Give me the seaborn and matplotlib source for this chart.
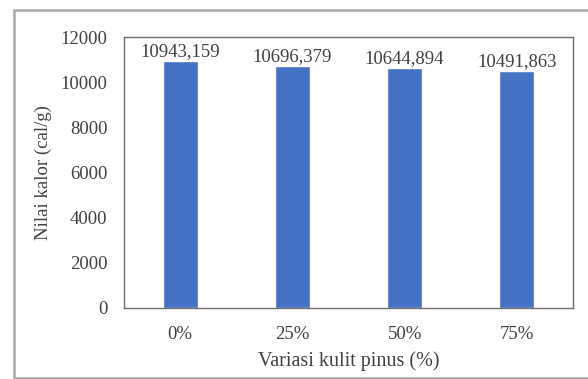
import matplotlib
matplotlib.use("Agg")
import matplotlib.pyplot as plt
from matplotlib.patches import Rectangle
import seaborn as sns
import pandas as pd

categories = ["0%", "25%", "50%", "75%"]
values = [10943.159, 10696.379, 10644.894, 10491.863]
value_labels = ["10943,159", "10696,379", "10644,894", "10491,863"]
y_ticks = [0, 2000, 4000, 6000, 8000, 10000, 12000]

sns.set_theme(style="white")
plt.rcParams["font.family"] = ["Liberation Serif", "DejaVu Serif"]
text_color = "#404040"
fs = 13.5

df = pd.DataFrame({"variasi": categories, "nilai": values})

fig = plt.figure(figsize=(5.88, 3.79), dpi=100)
ax = fig.add_axes([124 / 588, 1 - 308 / 379, (573 - 124) / 588, (308 - 37) / 379])

sns.barplot(data=df, x="variasi", y="nilai", color="#4472C4", width=0.31,
            saturation=1, ax=ax)

for i, (v, lab) in enumerate(zip(values, value_labels)):
    ax.text(i, v + 40, lab, ha="center", va="bottom", fontsize=fs,
            color=text_color)

ax.set_ylim(0, 12000)
ax.set_yticks(y_ticks)
ax.set_yticklabels([str(t) for t in y_ticks])
ax.tick_params(axis="both", length=0, labelsize=fs, colors=text_color)
ax.tick_params(axis="x", pad=13)
ax.tick_params(axis="y", pad=12)
ax.set_xlabel("Variasi kulit pinus (%)", fontsize=14.5, color=text_color, labelpad=6)
ax.set_ylabel("Nilai kalor (cal/g)", fontsize=fs, color=text_color, labelpad=6)
for s in ax.spines.values():
    s.set_visible(True)
    s.set_color("#6e6e6e")
    s.set_linewidth(1.0)

# outer chart-area border
fig.patches.append(Rectangle((14 / 588, 1 / 379), 0.99, 1 - 11 / 379,
                             transform=fig.transFigure, fill=False,
                             edgecolor="#a8a8a8", linewidth=1.8, zorder=0))

fig.savefig("out.png", dpi=100)
